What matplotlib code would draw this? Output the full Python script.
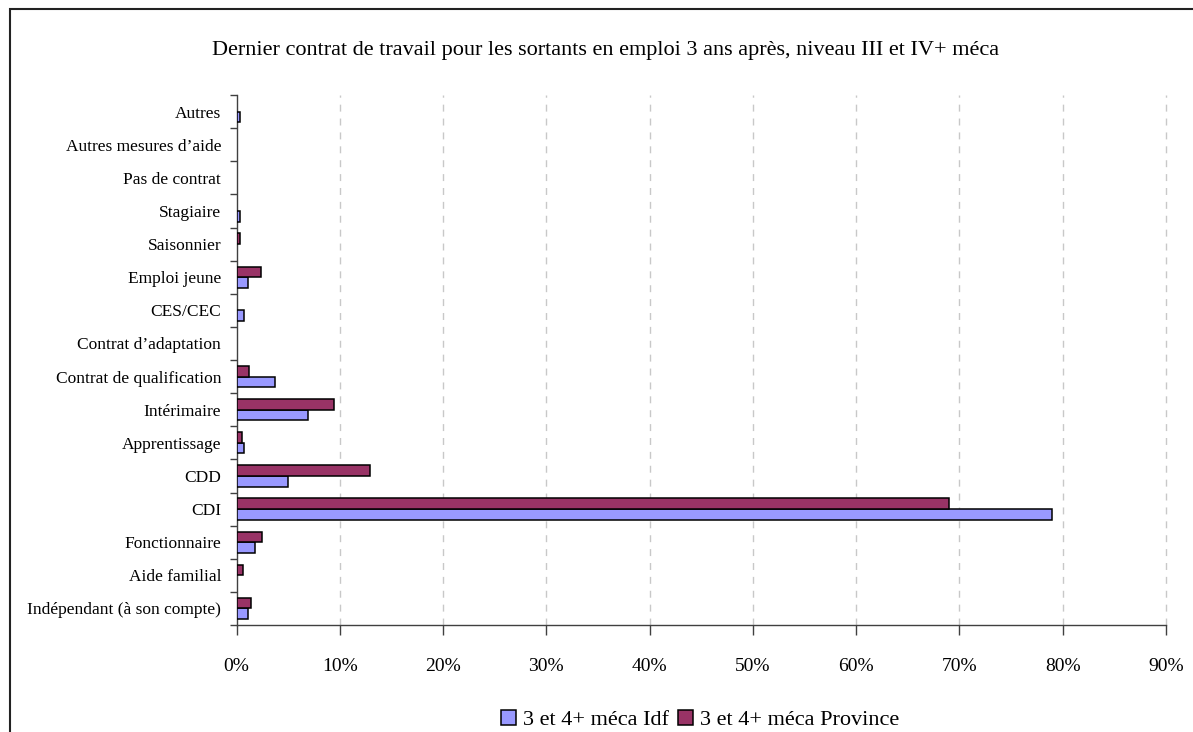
import matplotlib
matplotlib.use("Agg")
import matplotlib.pyplot as plt
from matplotlib.patches import Rectangle
from matplotlib.ticker import FixedLocator, PercentFormatter
import numpy as np

plt.rcParams['font.family'] = ['Liberation Serif', 'DejaVu Serif']

# categories from bottom to top, shares in %
categories = [
    "Indépendant (à son compte)", "Aide familial", "Fonctionnaire", "CDI", "CDD",
    "Apprentissage", "Intérimaire", "Contrat de qualification",
    "Contrat d’adaptation", "CES/CEC", "Emploi jeune", "Saisonnier",
    "Stagiaire", "Pas de contrat", "Autres mesures d’aide", "Autres",
]
idf = [1.1, 0, 1.8, 79, 5.0, 0.75, 6.9, 3.7, 0, 0.75, 1.1, 0, 0.35, 0, 0, 0.37]
province = [1.4, 0.65, 2.5, 69, 12.9, 0.5, 9.4, 1.2, 0, 0, 2.4, 0.35, 0, 0, 0, 0]

title = "Dernier contrat de travail pour les sortants en emploi 3 ans après, niveau III et IV+ méca"
label_idf = "3 et 4+ méca Idf"
label_prov = "3 et 4+ méca Province"

W, H = 1193, 732
fig = plt.figure(figsize=(W / 100, H / 100), dpi=100)
ax = fig.add_axes([236.5 / W, 1 - 625 / H, (1166 - 236.5) / W, (625 - 95) / H])

# outer chart frame (runs past the right and bottom edges)
fig.patches.append(Rectangle((10 / W, -0.05), 1.1, 1 - 9 / H + 0.05,
                             transform=fig.transFigure, fill=False,
                             edgecolor='#222222', linewidth=1.5))

y = np.arange(len(categories))
h = 0.32
lw_idf = [1.1 if v > 0 else 0 for v in idf]
lw_prov = [1.1 if v > 0 else 0 for v in province]
ax.barh(y - h / 2, idf, height=h, color='#9999FF', edgecolor='black',
        linewidth=lw_idf, label=label_idf, zorder=3)
ax.barh(y + h / 2, province, height=h, color='#993366', edgecolor='black',
        linewidth=lw_prov, label=label_prov, zorder=3)

ax.set_xlim(0, 90)
ax.set_ylim(-0.5, len(categories) - 0.5)
ax.xaxis.set_major_locator(FixedLocator(np.arange(0, 91, 10)))
ax.xaxis.set_major_formatter(PercentFormatter(decimals=0))
for gx in np.arange(10, 91, 10):
    ax.axvline(gx, color='#C8C8C8', linestyle=(0, (5, 5)), linewidth=1,
               zorder=0, clip_on=False)

ax.set_yticks(y)
ax.set_yticklabels(categories)
ax.yaxis.set_minor_locator(FixedLocator(np.arange(-0.5, len(categories), 1)))
ax.tick_params(axis='y', which='major', length=0, pad=11, labelsize=12.5)
ax.tick_params(axis='y', which='minor', length=5, width=1, color='#404040')
ax.tick_params(axis='x', length=7, width=1, color='#404040', pad=17, labelsize=14)

for s in ['top', 'right']:
    ax.spines[s].set_visible(False)
for s in ['left', 'bottom']:
    ax.spines[s].set_color('#404040')
    ax.spines[s].set_linewidth(1)

fig.text(606 / W, 1 - 50 / H, title, ha='center', va='center', fontsize=16)

leg = fig.legend(loc='center', bbox_to_anchor=(700 / W, 1 - 720 / H), ncol=2,
                 frameon=False, fontsize=16, handlelength=0.7, handleheight=0.7,
                 handletextpad=0.3, columnspacing=0.4)

fig.savefig("out.png", dpi=100)
